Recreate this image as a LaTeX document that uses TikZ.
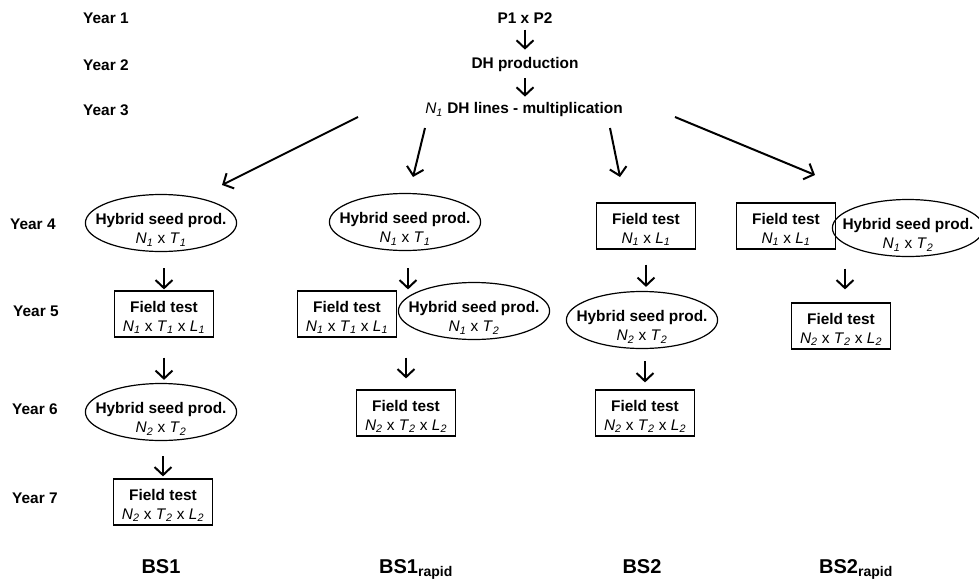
\documentclass[tikz,border=0pt]{standalone}
\usepackage{fontspec}
\setmainfont{Liberation Sans}
\usetikzlibrary{arrows.meta,shapes.geometric}

\newcommand{\ix}[2]{\textit{#1}\textsubscript{\textit{#2}}}

\tikzset{
  every node/.style={font=\fontsize{15.4}{19}\selectfont},
  seedprod/.style={ellipse, draw, line width=1.2pt, inner xsep=-12pt, inner ysep=-4pt,
    minimum width=150pt, minimum height=57pt, align=center, text height=44pt},
  fieldtest/.style={rectangle, draw, line width=1.2pt, inner sep=0pt,
    minimum width=99pt, minimum height=46pt, align=center, text height=37pt},
  yearlbl/.style={anchor=west, inner sep=0pt, font=\fontsize{15.4}{19}\selectfont\bfseries},
  stagetext/.style={inner sep=2pt, font=\fontsize{15.4}{19}\selectfont\bfseries},
  schemelbl/.style={inner sep=0pt, font=\fontsize{20}{24}\selectfont\bfseries},
  flow/.style={line width=2pt, -{Straight Barb[length=8pt,width=17pt]}},
}

\begin{document}
\begin{tikzpicture}[x=1pt,y=-1pt]
  \useasboundingbox (0,0) rectangle (979,584);

  % years
  \node[yearlbl] (y1) at (83,18) {Year 1};
  \node[yearlbl] (y2) at (83,65) {Year 2};
  \node[yearlbl] (y3) at (83,110) {Year 3};
  \node[yearlbl] (y4) at (10,224) {Year 4};
  \node[yearlbl] (y5) at (13,311) {Year 5};
  \node[yearlbl] (y6) at (12,409) {Year 6};
  \node[yearlbl] (y7) at (12,498) {Year 7};

  % common trunk
  \node[stagetext] (cross) at (525,18) {P1 x P2};
  \node[stagetext] (dh) at (525,65) {DH production};
  \node[stagetext] (lines) at (524,110) {\mdseries\ix{N}{1} \bfseries DH lines - multiplication};
  \draw[flow, shorten <=4pt, shorten >=6pt] (cross.south) -- (cross.south |- dh.north);
  \draw[flow, shorten <=4pt, shorten >=4pt] (dh.south) -- (dh.south |- lines.north);

  \coordinate (fork1) at (358,117);
  \coordinate (fork2) at (425,128);
  \coordinate (fork3) at (610,128);
  \coordinate (fork4) at (675,117);
  \coordinate (tip1) at (222,185);
  \coordinate (tip2) at (413,177);
  \coordinate (tip3) at (620,177);
  \coordinate (tip4) at (815,175);
  \draw[flow] (fork1) -- (tip1);
  \draw[flow] (fork2) -- (tip2);
  \draw[flow] (fork3) -- (tip3);
  \draw[flow] (fork4) -- (tip4);

  % BS1
  \node[seedprod] (bs1a) at (161,223) {\textbf{Hybrid seed prod.}\\\ix{N}{1} x \ix{T}{1}};
  \node[fieldtest] (bs1b) at (164,314) {\textbf{Field test}\\\ix{N}{1} x \ix{T}{1} x \ix{L}{1}};
  \node[seedprod] (bs1c) at (161,412) {\textbf{Hybrid seed prod.}\\\ix{N}{2} x \ix{T}{2}};
  \node[fieldtest] (bs1d) at (163,502) {\textbf{Field test}\\\ix{N}{2} x \ix{T}{2} x \ix{L}{2}};
  \draw[flow, shorten <=16pt, shorten >=1pt] (bs1b.north |- bs1a.south) -- (bs1b.north);
  \draw[flow, shorten <=20pt, shorten >=3pt] (bs1b.south) -- (bs1b.south |- bs1c.north);
  \draw[flow, shorten <=15pt, shorten >=2pt] (bs1d.north |- bs1c.south) -- (bs1d.north);

  % BS1 rapid
  \node[seedprod] (bs1ra) at (405,222) {\textbf{Hybrid seed prod.}\\\ix{N}{1} x \ix{T}{1}};
  \node[fieldtest] (bs1rb) at (347,314) {\textbf{Field test}\\\ix{N}{1} x \ix{T}{1} x \ix{L}{1}};
  \node[seedprod] (bs1rc) at (474,311) {\textbf{Hybrid seed prod.}\\\ix{N}{1} x \ix{T}{2}};
  \node[fieldtest] (bs1rd) at (406,413) {\textbf{Field test}\\\ix{N}{2} x \ix{T}{2} x \ix{L}{2}};
  \draw[flow, shorten <=17pt, shorten >=1pt] ([xshift=3pt]bs1ra.south) -- ([xshift=3pt]bs1ra.south |- bs1rb.north);
  \draw[flow, shorten <=20pt, shorten >=11pt] (bs1rd.north |- bs1rb.south) -- (bs1rd.north);

  % BS2
  \node[fieldtest] (bs2a) at (646,226) {\textbf{Field test}\\\ix{N}{1} x \ix{L}{1}};
  \node[seedprod] (bs2b) at (642,320) {\textbf{Hybrid seed prod.}\\\ix{N}{2} x \ix{T}{2}};
  \node[fieldtest] (bs2c) at (645,413) {\textbf{Field test}\\\ix{N}{2} x \ix{T}{2} x \ix{L}{2}};
  \draw[flow, shorten <=15pt, shorten >=4pt] (bs2a.south) -- (bs2a.south |- bs2b.north);
  \draw[flow, shorten <=12pt, shorten >=7pt] (bs2c.north |- bs2b.south) -- (bs2c.north);

  % BS2 rapid
  \node[fieldtest] (bs2ra) at (786,226) {\textbf{Field test}\\\ix{N}{1} x \ix{L}{1}};
  \node[seedprod] (bs2rb) at (908,228) {\textbf{Hybrid seed prod.}\\\ix{N}{1} x \ix{T}{2}};
  \node[fieldtest] (bs2rc) at (841,326) {\textbf{Field test}\\\ix{N}{2} x \ix{T}{2} x \ix{L}{2}};
  \draw[flow, shorten <=19pt, shorten >=13pt] ([xshift=4pt]bs2rc.north |- bs2ra.south) -- ([xshift=4pt]bs2rc.north);

  % scheme names
  \node[schemelbl, anchor=base] (bs1) at (161,573) {BS1};
  \node[schemelbl, anchor=base west] (bs1r) at (379,573) {BS1\textsubscript{rapid}};
  \node[schemelbl, anchor=base] (bs2) at (642,573) {BS2};
  \node[schemelbl, anchor=base west] (bs2r) at (819,573) {BS2\textsubscript{rapid}};
\end{tikzpicture}
\end{document}
